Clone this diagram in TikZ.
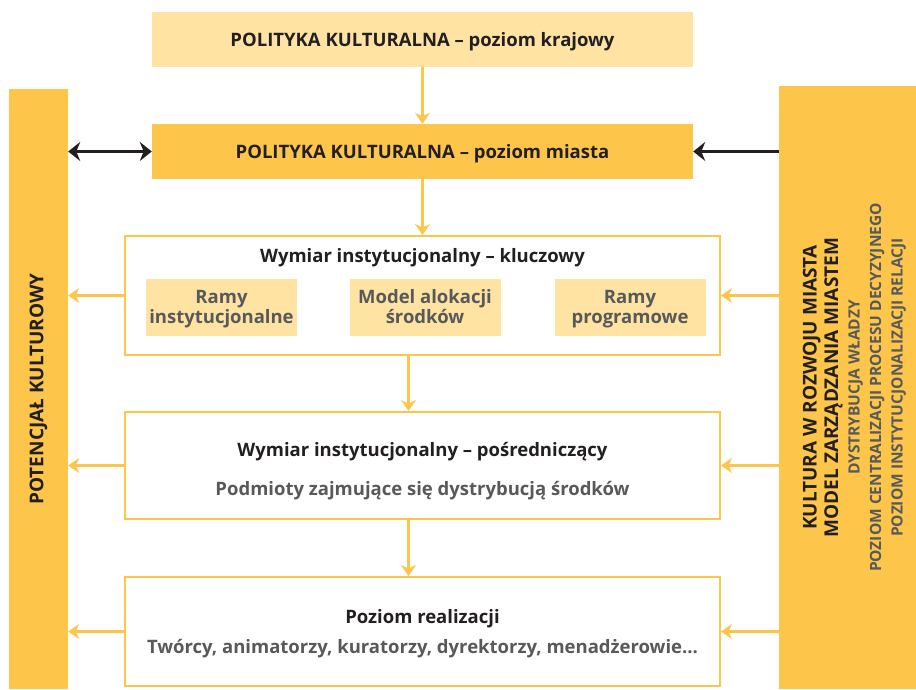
\documentclass[tikz,border=0pt]{standalone}
\usepackage{fontspec}
\setmainfont{Open Sans}
\usetikzlibrary{arrows.meta}

\definecolor{mustard}{HTML}{FDC64B}
\definecolor{cream}{HTML}{FEE3A3}
\definecolor{ink}{HTML}{231F20}
\definecolor{slate}{HTML}{58595B}

\tikzstyle{national} = [rectangle, minimum width=541pt, minimum height=55pt, text height=17pt, text depth=2.2pt, text centered, draw=none, fill=cream, text=ink, font=\bfseries\fontsize{18.5}{22}\selectfont]
\tikzstyle{city} = [national, fill=mustard]
\tikzstyle{level} = [rectangle, minimum width=595pt, align=center, draw=mustard, line width=2pt, fill=white, text=ink, font=\bfseries\fontsize{18.5}{22}\selectfont]
\tikzstyle{frame} = [rectangle, minimum width=151pt, minimum height=57pt, inner sep=2pt, text height=36pt, text depth=4.4pt, align=center, fill=cream, text=slate, font=\bfseries\fontsize{18.5}{20}\selectfont]
\tikzstyle{bar} = [rectangle, rotate=90, minimum width=600pt, align=center, fill=mustard, text=ink, font=\bfseries\fontsize{19}{21.5}\selectfont]
\tikzstyle{flow} = [line width=2.5pt, mustard, -{Stealth[length=11pt,width=15pt]}]
\tikzstyle{arrow} = [line width=2.5pt, ink, -{Stealth[length=12pt,width=19pt]}]
\tikzstyle{twoway} = [line width=2.5pt, ink, {Stealth[length=12pt,width=19pt]}-{Stealth[length=12pt,width=19pt]}]

\begin{document}
\begin{tikzpicture}[node distance=112pt]
        \useasboundingbox (0,0) rectangle (916pt,689pt);

        \node (National) [national] at (422.5pt,649.5pt) {POLITYKA KULTURALNA – poziom krajowy};
        \node (City) [city, below of = National] {POLITYKA KULTURALNA – poziom miasta};
        \node (Key) [level, minimum height=119pt, below of = City, yshift = -32pt] {};
        \node (Key Title) [text=ink, font=\bfseries\fontsize{18.5}{22}\selectfont] at ([yshift=-22.5pt]Key.north) {Wymiar instytucjonalny – kluczowy};
        \node (Frames) [frame] at ([xshift=-201pt, yshift=-12pt]Key.center) {Ramy\\instytucjonalne};
        \node (Allocation) [frame] at ([xshift=2.5pt, yshift=-12pt]Key.center) {Model alokacji\\środków};
        \node (Programmes) [frame] at ([xshift=207.5pt, yshift=-12pt]Key.center) {Ramy\\programowe};
        \node (Mid) [level, minimum height=107pt, text height=60.3pt, text depth=1.3pt, below of = Key, yshift = -58pt] {Wymiar instytucjonalny – pośredniczący\\[16.3pt]\textcolor{slate}{Podmioty zajmujące się dystrybucją środków}};
        \node (Realization) [level, minimum height=109pt, text height=45pt, text depth=1.4pt, below of = Mid, yshift = -54pt] {Poziom realizacji\\[8pt]\textcolor{slate}{Twórcy, animatorzy, kuratorzy, dyrektorzy, menadżerowie...}};

        \node (Potential) [bar, minimum height=59pt] at (38.5pt,300pt) {POTENCJAŁ KULTUROWY};
        \node (Model) [bar, minimum width=603pt, minimum height=137pt, text height=111.4pt, text depth=1.4pt] at (847.5pt,301.5pt) {KULTURA W ROZWOJU MIASTA\\MODEL ZARZĄDZANIA MIASTEM\\
            \textcolor{slate}{\fontsize{15.5}{18}\selectfont DYSTRYBUCJA WŁADZY}\\
            \textcolor{slate}{\fontsize{15.5}{18}\selectfont POZIOM CENTRALIZACJI PROCESU DECYZYJNEGO}\\
            \textcolor{slate}{\fontsize{15.5}{18}\selectfont POZIOM INSTYTUCJONALIZACJI RELACJI}};

        \draw [flow] (National) -- (City);
        \draw [flow] (City) -- (Key);
        \draw [flow] ([xshift=-14pt]Key.south) -- ([xshift=-14pt]Mid.north);
        \draw [flow] ([xshift=-14pt]Mid.south) -- ([xshift=-14pt]Realization.north);
        \draw [flow] (Key.west) -- (Key.west -| Potential.south);
        \draw [flow] (Mid.west) -- (Mid.west -| Potential.south);
        \draw [flow] (Realization.west) -- (Realization.west -| Potential.south);
        \draw [flow] (Key.east -| Model.north) -- (Key.east);
        \draw [flow] (Mid.east -| Model.north) -- (Mid.east);
        \draw [flow] (Realization.east -| Model.north) -- (Realization.east);
        \draw [twoway] (City.west -| Potential.south) -- (City.west);
        \draw [arrow] (City.east -| Model.north) -- (City.east);
    \end{tikzpicture}
\end{document}
